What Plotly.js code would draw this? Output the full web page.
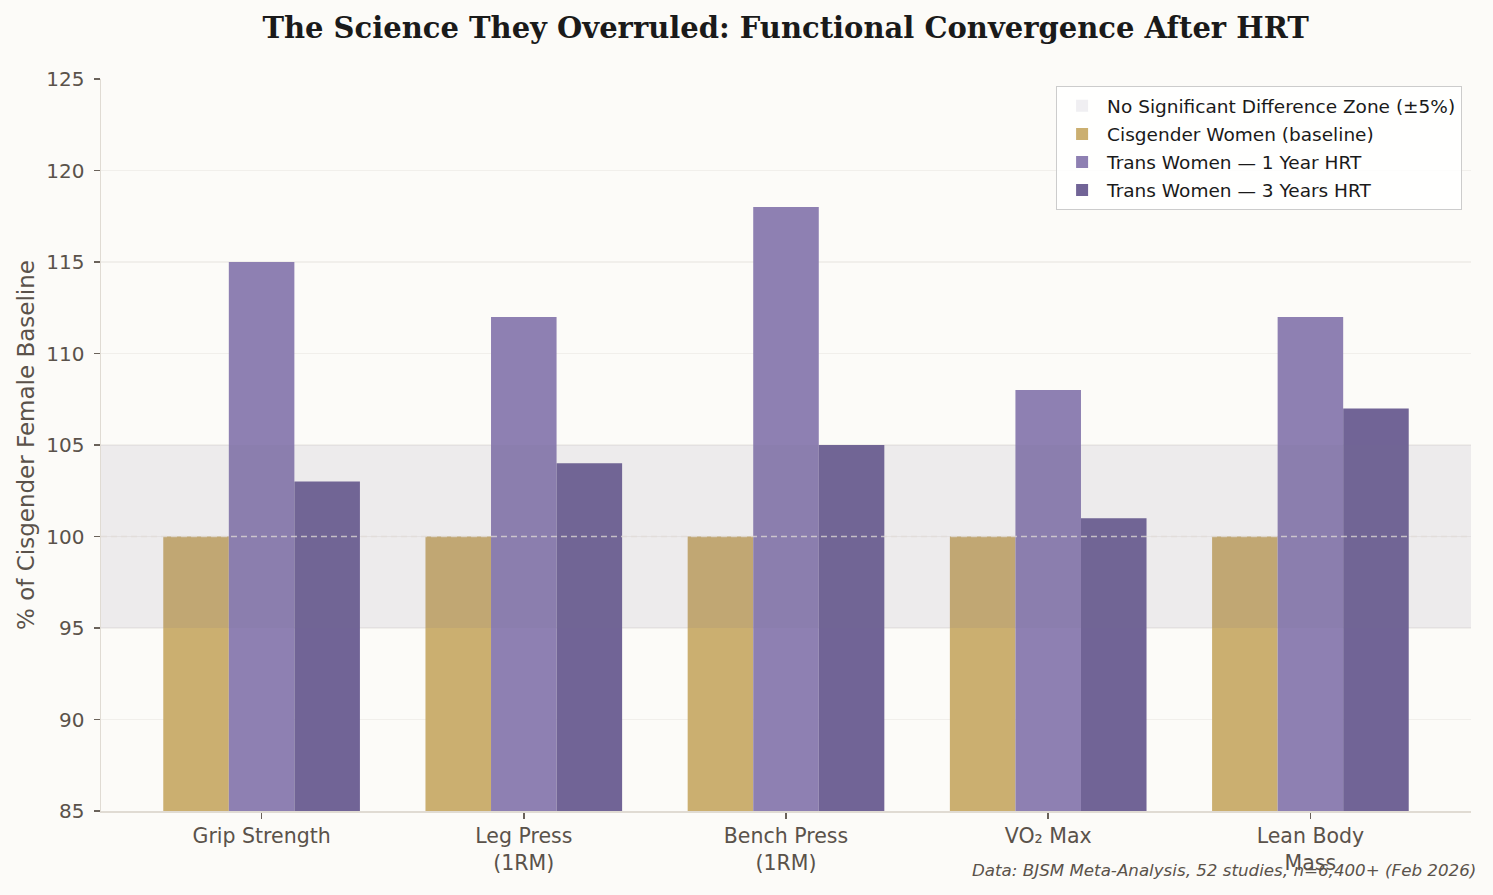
<!DOCTYPE html>
<html>
<head>
<meta charset="utf-8">
<script src="https://cdn.plot.ly/plotly-3.0.1.min.js"></script>
<style>
  html, body { margin: 0; padding: 0; background: #fcfbf8; }
  #chart { width: 1493px; height: 895px; }
</style>
</head>
<body>
<div id="chart"></div>
<script>
// categories and values (% of cisgender female baseline)
var metrics = ['Grip Strength', 'Leg Press<br>(1RM)', 'Bench Press<br>(1RM)', 'VO\u2082 Max', 'Lean Body<br>Mass']
var cisWomen = [100, 100, 100, 100, 100]
var transOneYear = [115, 112, 118, 108, 112]
var transThreeYears = [103, 104, 105, 101, 107]

var zoneLow = 95
var zoneHigh = 105
var baseline = 100
var axisFloor = 85

var textColor = '#5a524a'
var xIdx = metrics.map(function (m, i) { return i })

// bars are drawn up from the axis floor, like the original
function barTrace(vals, name, color, rank) {
  return {
    type: 'bar',
    x: xIdx,
    y: vals.map(function (v) { return v - axisFloor }),
    base: axisFloor,
    name: name,
    legendgroup: name,
    legendrank: rank,
    marker: { color: color, line: { width: 0 } },
    hoverinfo: 'name'
  }
}

var data = [
  barTrace(cisWomen, 'Cisgender Women (baseline)', '#cbaf70', 2),
  barTrace(transOneYear, 'Trans Women \u2014 1 Year HRT', '#8e80b2', 3),
  barTrace(transThreeYears, 'Trans Women \u2014 3 Years HRT', '#716496', 4)
]

var layout = {
  width: 1493,
  height: 895,
  paper_bgcolor: '#fcfbf8',
  plot_bgcolor: '#fcfbf8',
  margin: { l: 101, r: 22, t: 79, b: 84 },
  font: { family: 'DejaVu Sans, sans-serif', color: textColor, size: 19 },
  title: {
    text: '<b>The Science They Overruled: Functional Convergence After HRT</b>',
    font: { family: 'DejaVu Serif, serif', size: 29, color: '#1a1a1a' },
    x: 0.5262, xanchor: 'center', y: 0.969, yanchor: 'middle'
  },
  barmode: 'group',
  bargap: 0.25,
  bargroupgap: 0,
  showlegend: true,
  legend: {
    x: 0.9935, xanchor: 'right', y: 0.99, yanchor: 'top',
    bgcolor: 'rgba(255,255,255,0.85)', bordercolor: '#cccccc', borderwidth: 1,
    font: { size: 18.5, color: '#1a1a1a' },
    tracegroupgap: 1,
    itemwidth: 40
  },
  xaxis: {
    range: [-0.6125, 4.6125],
    tickvals: xIdx,
    ticktext: metrics,
    showgrid: false,
    zeroline: false,
    showline: true,
    linecolor: '#e0dbd3',
    linewidth: 1.5,
    ticks: 'outside',
    ticklen: 6,
    tickwidth: 1.5,
    tickcolor: '#6a625a',
    tickfont: { size: 20.5, color: textColor },
    fixedrange: true
  },
  yaxis: {
    range: [axisFloor, 125],
    dtick: 5,
    tick0: axisFloor,
    title: { text: '% of Cisgender Female Baseline', font: { size: 23, color: textColor }, standoff: 5 },
    showgrid: true,
    gridcolor: 'rgba(222,218,212,0.35)',
    gridwidth: 1.2,
    zeroline: false,
    showline: true,
    linecolor: '#e0dbd3',
    linewidth: 1.5,
    ticks: 'outside',
    ticklen: 6,
    tickwidth: 1.5,
    tickcolor: '#6a625a',
    ticklabelstandoff: 5,
    tickfont: { size: 20, color: textColor },
    layer: 'above traces',
    fixedrange: true
  },
  shapes: [
    {
      type: 'rect', xref: 'paper', yref: 'y',
      x0: 0, x1: 1, y0: zoneLow, y1: zoneHigh,
      fillcolor: 'rgba(120,110,145,0.11)',
      line: { width: 0 },
      layer: 'above',
      showlegend: true,
      name: 'No Significant Difference Zone (\u00b15%)',
      legendgroup: 'zone',
      legendrank: 1
    },
    {
      type: 'line', xref: 'paper', yref: 'y',
      x0: 0, x1: 1, y0: baseline, y1: baseline,
      line: { color: 'rgba(225,220,215,0.75)', width: 1.5, dash: '6px,4px' },
      layer: 'above'
    }
  ],
  annotations: [
    {
      text: '<i>Data: BJSM Meta-Analysis, 52 studies, n=6,400+ (Feb 2026)</i>',
      xref: 'paper', yref: 'paper',
      x: 1.005, xanchor: 'right',
      y: -0.0805, yanchor: 'middle',
      showarrow: false,
      font: { size: 16.7, color: textColor }
    }
  ]
}

Plotly.newPlot('chart', data, layout, { displayModeBar: false, staticPlot: true })
</script>
</body>
</html>
